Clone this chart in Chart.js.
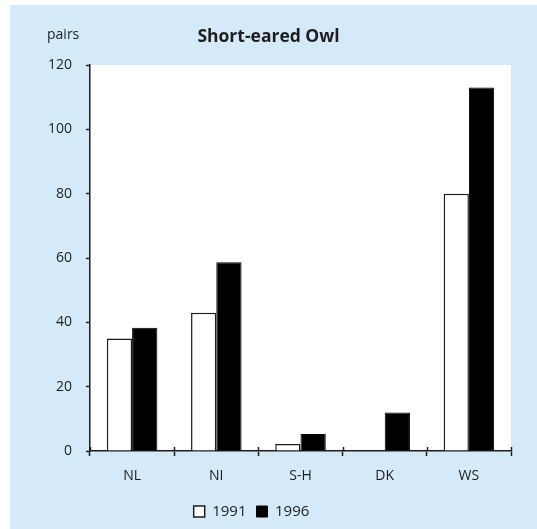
<!DOCTYPE html>
<html>
<head>
<meta charset="utf-8">
<script src="https://cdn.jsdelivr.net/npm/chart.js@4/dist/chart.umd.min.js"></script>
<style>
  html, body { margin: 0; padding: 0; background: #ffffff; }
  #wrap { width: 537px; height: 529px; }
</style>
</head>
<body>
<div id="wrap"><canvas id="c" width="537" height="529"></canvas></div>
<script>
// Breeding pairs of Short-eared Owl by region
const regions = ['NL', 'NI', 'S-H', 'DK', 'WS'];
const pairs1991 = [35, 43, 2.2, 0, 80];
const pairs1996 = [38.3, 58.7, 5.3, 12, 113];
const yTicks = [0, 20, 40, 60, 80, 100, 120];

const FONT = "'Open Sans', 'DejaVu Sans', sans-serif";
const PANEL = '#d4eaf9';
const INK = '#1e1e1e';

// Light blue panel behind the chart, white plotting area
const backdrop = {
  id: 'backdrop',
  beforeDraw(chart) {
    const { ctx, chartArea: a, width, height } = chart;
    ctx.save();
    ctx.fillStyle = PANEL;
    ctx.fillRect(10, 5, width - 10, height - 5);
    ctx.fillStyle = '#ffffff';
    ctx.fillRect(a.left, a.top, a.right - a.left, a.bottom - a.top);
    ctx.restore();
  }
};

// Category separators cross the baseline; also the "pairs" unit label
const extras = {
  id: 'extras',
  afterDraw(chart) {
    const { ctx, chartArea: a } = chart;
    const x = chart.scales.x;
    ctx.save();
    ctx.strokeStyle = INK;
    ctx.lineWidth = 1.5;
    for (let i = 0; i <= regions.length; i++) {
      const px = Math.round(x.getPixelForValue(i - 0.5)) + 0.5;
      ctx.beginPath();
      ctx.moveTo(px, a.bottom - 4);
      ctx.lineTo(px, a.bottom);
      ctx.stroke();
    }
    ctx.fillStyle = INK;
    ctx.font = '14px ' + FONT;
    ctx.textAlign = 'left';
    ctx.textBaseline = 'middle';
    ctx.fillText('pairs', 47, 35);
    ctx.restore();
  }
};

// Legend sits a little left of centre
const legendShift = {
  id: 'legendShift',
  afterLayout(chart) {
    chart.legend.left -= 17;
    chart.legend.right -= 17;
  }
};

new Chart(document.getElementById('c'), {
  type: 'bar',
  data: {
    labels: regions,
    datasets: [
      {
        label: '1991',
        data: pairs1991,
        backgroundColor: '#ffffff',
        borderColor: INK,
        borderWidth: 1.5
      },
      {
        label: '1996',
        data: pairs1996,
        backgroundColor: '#000000',
        borderColor: '#000000',
        borderWidth: 1
      }
    ]
  },
  options: {
    responsive: false,
    animation: false,
    devicePixelRatio: 1,
    layout: { padding: { left: 26, right: 26, top: 20, bottom: 0 } },
    datasets: { bar: { categoryPercentage: 0.6, barPercentage: 1.0 } },
    plugins: {
      title: {
        display: true,
        text: 'Short-eared Owl',
        color: INK,
        font: { family: FONT, size: 17.5, weight: 'bold' },
        padding: { top: 7, bottom: 17 }
      },
      legend: {
        display: true,
        position: 'bottom',
        labels: {
          color: INK,
          font: { family: FONT, size: 15 },
          boxWidth: 11,
          boxHeight: 11,
          padding: 10
        }
      },
      tooltip: { enabled: false }
    },
    scales: {
      x: {
        grid: {
          offset: true,
          drawOnChartArea: false,
          drawTicks: true,
          tickLength: 5,
          tickWidth: 1.5,
          tickColor: INK
        },
        border: { display: true, color: INK, width: 1.5 },
        ticks: {
          color: INK,
          font: { family: FONT, size: 14 },
          padding: 12,
          maxRotation: 0
        },
        afterFit(scale) { scale.height = 43; }
      },
      y: {
        min: 0,
        max: 120,
        afterBuildTicks(scale) { scale.ticks = yTicks.map(v => ({ value: v })); },
        grid: {
          drawOnChartArea: false,
          drawTicks: true,
          tickLength: 4,
          tickWidth: 1.5,
          tickColor: INK
        },
        border: { display: true, color: INK, width: 1.5 },
        ticks: {
          color: INK,
          font: { family: FONT, size: 14 },
          padding: 14
        },
        afterFit(scale) { scale.width = 64; }
      }
    }
  },
  plugins: [backdrop, extras, legendShift]
});
</script>
</body>
</html>
